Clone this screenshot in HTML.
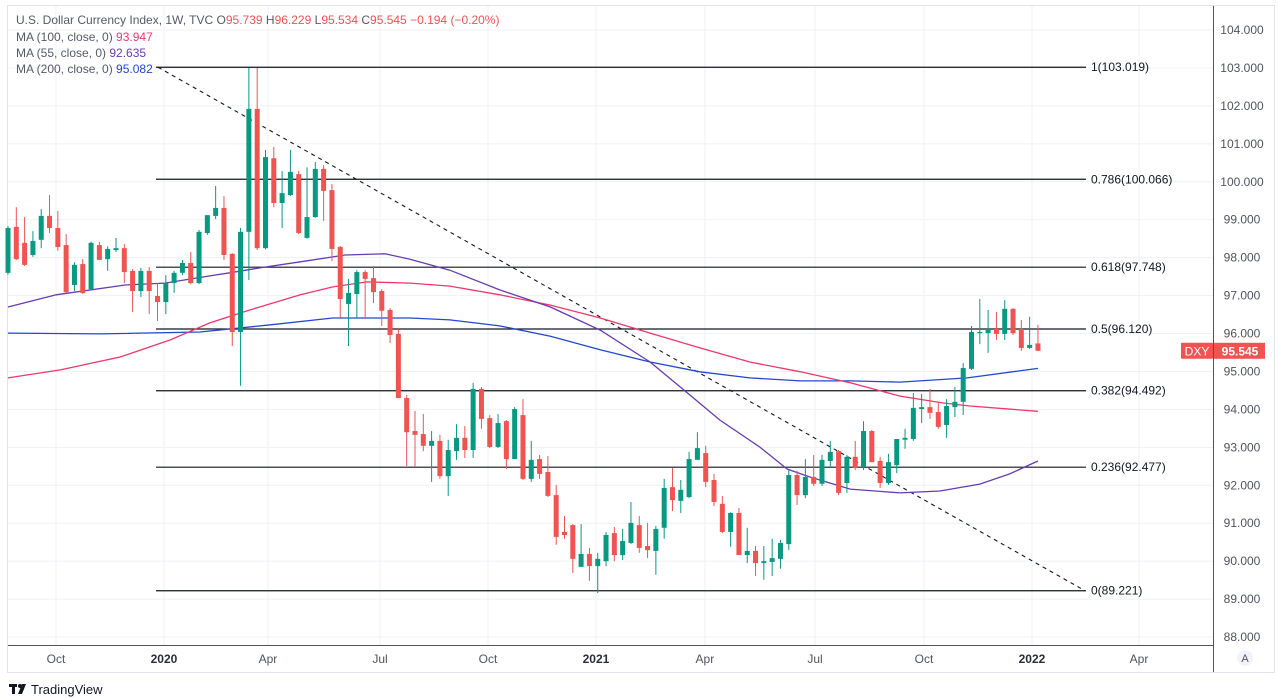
<!DOCTYPE html>
<html><head><meta charset="utf-8"><style>
html,body{margin:0;padding:0;background:#fff;width:1279px;height:698px;overflow:hidden}
svg{display:block;font-family:"Liberation Sans",sans-serif}
</style></head><body>
<svg id="chart" width="1279" height="698" viewBox="0 0 1279 698" xmlns="http://www.w3.org/2000/svg">
<rect x="0" y="0" width="1279" height="698" fill="#fff"/>
<rect x="7.5" y="5.5" width="1267" height="667" fill="none" stroke="#e0e3eb"/>
<g id="grid"></g>
<g id="fib"></g>
<g id="mas"></g>
<g id="candles"></g>
<g id="yaxis"></g>
<g id="xaxis"></g>
<g font-size="12">
<text x="16" y="24" fill="#555a66">U.S. Dollar Currency Index, 1W, TVC <tspan fill="#555a66">O</tspan><tspan fill="#f05350">95.739</tspan> <tspan fill="#555a66">H</tspan><tspan fill="#f05350">96.229</tspan> <tspan fill="#555a66">L</tspan><tspan fill="#f05350">95.534</tspan> <tspan fill="#555a66">C</tspan><tspan fill="#f05350">95.545 −0.194 (−0.20%)</tspan></text>
<text x="16" y="41" fill="#555a66">MA (100, close, 0) <tspan fill="#f2366a">93.947</tspan></text>
<text x="16" y="57" fill="#555a66">MA (55, close, 0) <tspan fill="#673ab7">92.635</tspan></text>
<text x="16" y="73" fill="#555a66">MA (200, close, 0) <tspan fill="#2248d0">95.082</tspan></text>
</g>
<g>
<rect x="9" y="684" width="8" height="3" fill="#131722"/><rect x="12" y="684" width="3" height="10" fill="#131722"/>
<circle cx="20" cy="686" r="2" fill="#131722"/><polygon points="22,684 26,684 22,694 18,694" fill="#131722"/>
<text x="31" y="694" font-size="13" fill="#131722">TradingView</text>
</g>
</svg>
<script>
const opens=[97.60,98.81,98.39,98.07,98.47,99.10,98.78,98.33,97.28,97.83,97.17,98.33,97.96,98.20,98.25,97.65,97.12,97.65,96.99,96.83,97.33,97.60,97.86,97.33,98.65,99.10,99.31,98.10,96.04,98.68,101.92,98.25,100.62,99.44,99.65,100.20,98.52,99.07,100.34,99.78,98.28,96.78,97.04,97.62,97.46,97.12,96.62,95.99,94.30,93.43,93.35,93.04,93.17,92.24,92.90,93.25,92.93,94.54,93.77,93.01,93.69,92.69,93.85,92.17,92.69,92.35,91.74,90.77,90.95,89.85,90.19,89.87,90.00,90.74,90.16,90.48,90.95,90.40,90.27,90.88,91.95,91.59,91.69,92.67,92.85,92.14,91.51,90.77,91.27,90.16,90.27,89.95,89.98,90.06,90.45,92.27,91.74,92.22,92.04,92.64,92.90,92.06,92.75,92.48,93.43,92.64,92.06,92.53,93.20,93.22,94.01,94.06,93.93,93.59,94.06,94.20,95.07,96.01,96.01,96.12,95.99,96.65,96.12,95.62,95.739];
const highs=[98.83,99.33,99.07,98.70,99.28,99.65,99.23,98.62,97.88,97.96,98.42,98.42,98.30,98.52,98.36,97.70,97.73,97.75,97.33,97.54,97.65,97.94,98.15,98.73,99.12,99.89,99.62,98.12,98.78,103.00,103.00,100.84,100.92,100.28,100.84,100.28,100.38,100.52,100.44,99.94,98.31,97.44,97.67,97.67,97.78,97.17,96.67,96.15,94.38,93.96,93.88,93.43,93.33,93.20,93.61,93.56,94.70,94.59,93.85,93.88,93.72,94.06,94.27,93.17,92.80,92.77,92.01,91.19,90.98,90.98,90.35,90.22,90.77,90.90,90.85,91.56,91.19,91.01,90.93,92.17,92.46,92.14,92.88,93.40,93.04,92.30,91.72,91.29,91.40,90.88,90.40,90.40,90.59,90.56,92.40,92.38,92.69,92.80,92.80,93.17,92.93,92.80,93.17,93.69,93.46,92.75,92.83,93.22,93.49,94.43,94.41,94.54,94.17,94.27,94.59,95.22,96.20,96.91,96.62,96.57,96.88,96.67,96.36,96.44,96.229];
const lows=[97.55,97.94,97.78,98.02,98.25,98.65,98.18,97.07,97.12,97.04,97.15,97.94,97.65,98.15,97.33,96.57,96.96,96.51,96.33,96.51,97.07,97.54,97.30,97.30,98.60,99.02,97.94,95.67,94.62,97.41,98.20,98.22,99.33,98.78,99.62,98.62,98.50,99.05,98.97,97.91,96.41,95.67,96.41,96.38,96.80,96.20,95.75,94.30,92.51,92.48,92.90,92.09,92.17,91.72,92.67,92.72,92.72,93.49,92.98,92.98,92.43,92.69,92.14,92.09,92.17,91.69,90.43,90.59,89.69,89.85,89.48,89.16,89.87,90.00,90.03,90.45,90.22,90.08,89.64,90.59,91.32,91.27,91.66,92.67,91.95,91.45,90.74,90.38,90.16,89.95,89.61,89.51,89.61,89.80,90.29,91.48,91.66,91.98,91.98,92.48,91.74,91.80,92.40,92.40,92.61,91.93,92.01,92.32,92.96,93.17,93.64,93.75,93.49,93.25,93.80,93.85,95.04,95.72,95.49,95.83,95.83,95.96,95.54,95.59,95.534];
const closes=[98.78,97.96,97.81,98.44,99.10,98.78,98.28,97.09,97.81,97.07,98.39,97.94,98.23,98.25,97.62,97.12,97.65,97.12,96.83,97.33,97.60,97.86,97.33,98.68,99.12,99.31,98.07,96.04,98.68,101.92,98.25,100.65,99.44,99.70,100.26,98.65,99.07,100.34,99.76,98.23,96.91,97.07,97.62,97.44,97.09,96.60,95.96,94.30,93.40,93.33,93.04,93.17,92.24,92.93,93.25,92.93,94.54,93.75,93.01,93.64,92.69,94.01,92.17,92.67,92.30,91.72,90.64,90.69,90.06,90.19,89.87,90.06,90.69,90.16,90.53,91.01,90.35,90.29,90.85,91.93,91.61,91.88,92.69,92.98,92.09,91.56,90.77,91.27,90.16,90.27,89.95,90.00,90.08,90.48,92.27,91.74,92.22,92.04,92.67,92.88,91.80,92.75,92.46,93.43,92.61,92.06,92.61,93.22,93.25,94.04,94.06,93.91,93.54,94.09,94.20,95.09,96.04,96.04,96.12,95.99,96.65,96.01,95.62,95.70,95.545];
const ma55Idx=[0,5.8,14.1,18.9,24.3,26.7,30.3,35.2,40.6,45.4,48.4,53.2,59.2,65.3,71.3,77.3,82.1,85.7,90.5,93.8,96.5,101.4,107.4,112.2,117.0,120.6,124];
const ma55Val=[96.70,97.02,97.28,97.33,97.52,97.60,97.73,97.89,98.07,98.10,97.96,97.67,97.15,96.70,96.09,95.25,94.38,93.72,93.01,92.43,92.22,91.90,91.80,91.85,92.03,92.30,92.64];
const ma100Idx=[0,6.3,13.5,19.5,24.3,29.1,35.2,39.1,43.2,48.4,53.2,59.2,65.3,71.3,77.3,83.3,89.3,95.4,101.4,107.4,112.6,115.8,124];
const ma100Val=[94.83,95.04,95.38,95.83,96.28,96.62,97.02,97.23,97.36,97.33,97.25,97.02,96.75,96.41,96.01,95.62,95.25,94.99,94.70,94.35,94.17,94.09,93.95];
const ma200Idx=[0,11.1,23.1,31.2,39.1,48.4,53.2,59.2,65.3,71.3,77.3,83.3,89.3,95.4,101.4,107.4,115.5,124];
const ma200Val=[96.01,95.99,96.04,96.22,96.41,96.41,96.36,96.20,95.93,95.57,95.25,94.99,94.83,94.75,94.75,94.72,94.83,95.08];
const fibRatios=["1","0.786","0.618","0.5","0.382","0.236","0"];
const fibPrices=[103.019,100.066,97.748,96.120,94.492,92.477,89.221];
const priceTicks=[88,89,90,91,92,93,94,95,96,97,98,99,100,101,102,103,104];
const timeLabels=["Oct","2020","Apr","Jul","Oct","2021","Apr","Jul","Oct","2022","Apr"];
const timeIdx=[5.78,18.78,31.3,44.79,57.79,70.79,83.9,97.16,110.28,123.28,136.17];
const NS="http://www.w3.org/2000/svg";
const Y=v=>30+(104-v)*37.94;
const X=i=>8+i*8.306;
function mk(tag,attrs,parent){const e=document.createElementNS(NS,tag);for(const k in attrs)e.setAttribute(k,attrs[k]);parent.appendChild(e);return e;}
const grid=document.getElementById('grid');
priceTicks.forEach(p=>{const l=mk('line',{x1:8,x2:1213,y1:Y(p),y2:Y(p),stroke:'#eef1f5'},grid);

});
timeIdx.forEach(t=>{const l=mk('line',{x1:X(t),x2:X(t),y1:6,y2:645,stroke:'#eef1f5'},grid);

});
const fib=document.getElementById('fib');
fibPrices.forEach((p,i)=>{const l=mk('line',{x1:156,x2:1086,y1:Y(p),y2:Y(p),stroke:'#131722','stroke-width':1.2},fib);


const t=mk('text',{x:1091,y:Y(p)+4,'font-size':12,fill:'#131722'},fib);t.textContent=fibRatios[i]+'('+p.toFixed(3)+')';

});
const tl=mk('line',{x1:158,y1:Y(fibPrices[0]),x2:1085,y2:Y(fibPrices[6]),stroke:'#131722','stroke-dasharray':'4 4','stroke-width':1.1},fib);


const mas=document.getElementById('mas');
function maLine(idx,val,color,name){const d=idx.map((t,k)=>(k?'L':'M')+X(t).toFixed(1)+','+Y(val[k]).toFixed(1)).join(' ');
const p=mk('path',{d:d,fill:'none',stroke:color,'stroke-width':1.3},mas);

}
maLine(ma200Idx,ma200Val,'#2248d0','ma200-line');
maLine(ma100Idx,ma100Val,'#f2366a','ma100-line');
maLine(ma55Idx,ma55Val,'#673ab7','ma55-line');
const cg=document.getElementById('candles');
opens.forEach((o,i)=>{const c=closes[i],up=c>=o,col=up?'#089981':'#f05350',x=X(i);
const g=mk('g',{},cg);


mk('line',{x1:x,x2:x,y1:Y(highs[i]),y2:Y(lows[i]),stroke:col,'stroke-width':1},g);
const top=Y(Math.max(o,c)),bot=Y(Math.min(o,c));
mk('rect',{x:x-2.5,y:top,width:5,height:Math.max(1,bot-top),fill:col},g);});
const ya=document.getElementById('yaxis');
mk('line',{x1:1213.5,x2:1213.5,y1:6,y2:672,stroke:'#50535e'},ya);
priceTicks.forEach(p=>{const t=mk('text',{x:1242,y:Y(p)+4,'font-size':12,fill:'#50535e','text-anchor':'middle'},ya);t.textContent=p.toFixed(3);

});
const last=closes[closes.length-1];
const b1=mk('rect',{x:1181,y:Y(last)-8,width:32,height:16,fill:'#f05350',rx:1},ya);


const t1=mk('text',{x:1197,y:Y(last)+4.5,'font-size':12,fill:'#fff','text-anchor':'middle'},ya);t1.textContent='DXY';


const b2=mk('rect',{x:1214,y:Y(last)-8,width:51,height:16,fill:'#f05350'},ya);


const t2=mk('text',{x:1240,y:Y(last)+4.5,'font-size':12,'font-weight':'bold',fill:'#fff','text-anchor':'middle'},ya);t2.textContent=last.toFixed(3);


const xa=document.getElementById('xaxis');
mk('line',{x1:8,x2:1213,y1:645.5,y2:645.5,stroke:'#50535e'},xa);
timeLabels.forEach((s,i)=>{const yr=/^\d+$/.test(s);const t=mk('text',{x:X(timeIdx[i]),y:663,'font-size':12,fill:yr?'#2a2e39':'#50535e','font-weight':yr?'bold':'normal','text-anchor':'middle'},xa);t.textContent=s;

});
const ac=mk('circle',{cx:1245,cy:658,r:8,fill:'#f0f3fa'},xa);


const at=mk('text',{x:1245,y:662,'font-size':11,fill:'#50535e','text-anchor':'middle'},xa);at.textContent='A';


</script>
</body></html>
